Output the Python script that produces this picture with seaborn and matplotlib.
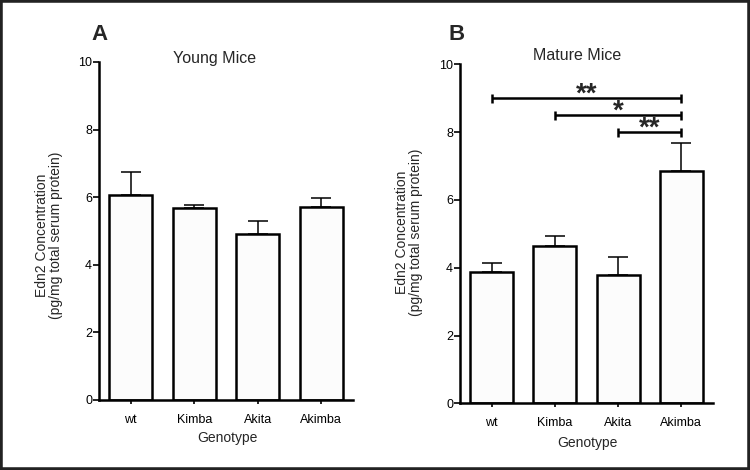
import matplotlib
matplotlib.use("Agg")
import matplotlib.pyplot as plt
import seaborn as sns
import pandas as pd
from matplotlib.patches import Rectangle

genotypes = ["wt", "Kimba", "Akita", "Akimba"]
young_mean = [6.07, 5.67, 4.90, 5.72]
young_err = [0.68, 0.11, 0.40, 0.27]
mature_mean = [3.88, 4.64, 3.78, 6.85]
mature_err = [0.25, 0.30, 0.54, 0.82]
yticks = [0, 2, 4, 6, 8, 10]
brackets = [(0, 3, 9.0, "**"), (1, 3, 8.5, "*"), (2, 3, 8.0, "**")]

sns.set_theme(style="ticks")
plt.rcParams["font.family"] = ["Liberation Sans", "DejaVu Sans"]

fig = plt.figure(figsize=(7.5, 4.7), dpi=100)
fig.patch.set_facecolor("white")

axA = fig.add_axes([99/750, 1-400/470, 254/750, 338/470])
axB = fig.add_axes([460/750, 1-403.3/470, 253/750, 339/470])

def draw(ax, means, errs):
    df = pd.DataFrame({"Genotype": genotypes, "value": means})
    sns.barplot(data=df, x="Genotype", y="value", ax=ax, color="#fcfcfc",
                edgecolor="black", linewidth=1.8, width=0.68, errorbar=None,
                saturation=1)
    ax.errorbar(range(len(genotypes)), means, yerr=[[0]*len(errs), errs],
                fmt="none", ecolor="black", elinewidth=1.1, capsize=7.5,
                capthick=1.1, zorder=1)
    ax.set_xlim(-0.5, 3.5)
    ax.set_ylim(0, 10)
    ax.set_yticks(yticks)
    ax.set_yticklabels([str(t) for t in yticks])
    for s in ["top", "right"]:
        ax.spines[s].set_visible(False)
    for s in ["left", "bottom"]:
        ax.spines[s].set_linewidth(1.8)
        ax.spines[s].set_color("black")
    ax.tick_params(axis="y", length=4, width=1.2, labelsize=9, pad=1, colors="black")
    ax.tick_params(axis="x", length=3, width=1.2, labelsize=9, pad=7, colors="black")
    ax.set_xlabel("")
    ax.set_ylabel("")
    ax.set_facecolor("white")

draw(axA, young_mean, young_err)
draw(axB, mature_mean, mature_err)

for (x1, x2, y, lab) in brackets:
    axB.plot([x1, x2], [y, y], color="black", lw=1.8, solid_capstyle="butt")
    for xe in (x1, x2):
        axB.plot([xe, xe], [y-0.13, y+0.13], color="black", lw=1.8, solid_capstyle="butt")
    axB.annotate(lab, xy=((x1+x2)/2, y), xytext=(0, -2.5), textcoords="offset points",
                 ha="center", va="baseline", fontsize=20, fontweight="bold")

ylab = "Edn2 Concentration\n(pg/mg total serum protein)"
fig.text(49/750, 1-235/470, ylab, rotation=90, ha="center", va="center",
         fontsize=10, linespacing=1.05)
fig.text(409/750, 1-232/470, ylab, rotation=90, ha="center", va="center",
         fontsize=10, linespacing=1.05)

fig.text(215/750, 1-59/470, "Young Mice", ha="center", va="center", fontsize=11.5)
fig.text(577/750, 1-56/470, "Mature Mice", ha="center", va="center", fontsize=11.5)
fig.text(99/750, 1-35/470, "A", ha="center", va="center", fontsize=16, fontweight="bold")
fig.text(457/750, 1-35/470, "B", ha="center", va="center", fontsize=16, fontweight="bold")
fig.text(227/750, 1-438/470, "Genotype", ha="center", va="center", fontsize=10)
fig.text(587/750, 1-443/470, "Genotype", ha="center", va="center", fontsize=10)

fig.patches.append(Rectangle((0, 0), 1, 1, transform=fig.transFigure, fill=False,
                             edgecolor="#222222", linewidth=4, zorder=10))

fig.savefig("out.png", dpi=100)
